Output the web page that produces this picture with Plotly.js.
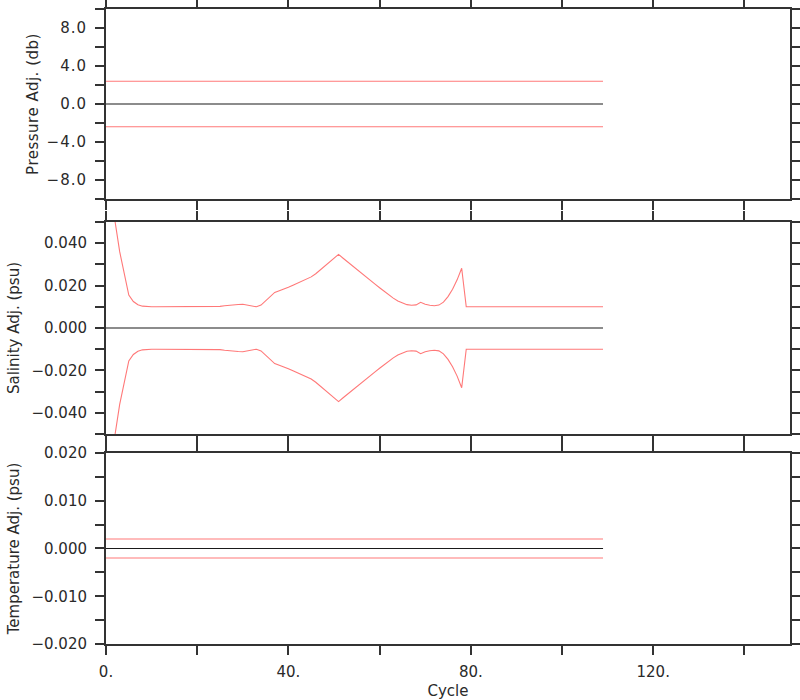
<!DOCTYPE html>
<html>
<head>
<meta charset="utf-8">
<script src="https://cdn.plot.ly/plotly-3.0.1.min.js"></script>
<style>
html,body{margin:0;padding:0;background:#fff;}
#chart{width:800px;height:700px;}
#chart .ytick text, #chart .xtick text { letter-spacing: 1px; }
#chart .ytitle, #chart .xtitle { letter-spacing: 0.5px; }
</style>
</head>
<body>
<div id="chart"></div>
<script>
// ---- data ----
const cycles = [0,1,2,3,4,5,6,7,8,9,10,11,12,13,14,15,16,17,18,19,20,21,22,23,24,25,26,27,28,29,
  30,31,32,33,34,35,36,37,38,39,40,41,42,43,44,45,46,47,48,49,50,51,52,53,54,55,56,57,58,59,
  60,61,62,63,64,65,66,67,68,69,70,71,72,73,74,75,76,77,78,79,80,81,82,83,84,85,86,87,88,89,
  90,91,92,93,94,95,96,97,98,99,100,101,102,103,104,105,106,107,108,109];

const salinityHigh = [0.090,0.070,0.050,0.036,0.025,0.0155,0.0125,0.0110,0.0103,
  0.0100,0.0100,0.0100,0.0100,0.0100,0.0100,0.0100,0.0100,0.0100,0.0100,0.0100,0.0100,0.0100,0.0100,0.0100,0.0100,
  0.0102,0.0105,0.0108,0.0110,0.0111,0.0112,0.0108,0.0101,0.0100,0.0108,0.0128,0.0150,0.0168,0.0176,0.0183,
  0.0192,0.0202,0.0211,0.0220,0.0229,0.0241,0.0256,0.0275,0.0294,0.0312,0.0330,0.0347,0.0329,0.0311,0.0293,
  0.0275,0.0258,0.0241,0.0224,0.0207,0.0190,0.0173,0.0157,0.0141,0.0127,0.0117,0.0110,0.0107,0.0109,0.0121,
  0.0112,0.0107,0.0105,0.0108,0.0122,0.0148,0.0183,0.0227,0.0282,
  0.0100,0.0100,0.0100,0.0100,0.0100,0.0100,0.0100,0.0100,0.0100,0.0100,0.0100,0.0100,0.0100,0.0100,0.0100,0.0100,
  0.0100,0.0100,0.0100,0.0100,0.0100,0.0100,0.0100,0.0100,0.0100,0.0100,0.0100,0.0100,0.0100,0.0100,0.0100];

const salinityLow = [-0.090,-0.070,-0.050,-0.036,-0.025,-0.0155,-0.0125,-0.0110,-0.0103,
  -0.0100,-0.0100,-0.0100,-0.0100,-0.0100,-0.0100,-0.0100,-0.0100,-0.0100,-0.0100,-0.0100,-0.0100,-0.0100,-0.0100,-0.0100,-0.0100,
  -0.0102,-0.0105,-0.0108,-0.0110,-0.0111,-0.0112,-0.0108,-0.0101,-0.0100,-0.0108,-0.0128,-0.0150,-0.0168,-0.0176,-0.0183,
  -0.0192,-0.0202,-0.0211,-0.0220,-0.0229,-0.0241,-0.0256,-0.0275,-0.0294,-0.0312,-0.0330,-0.0347,-0.0329,-0.0311,-0.0293,
  -0.0275,-0.0258,-0.0241,-0.0224,-0.0207,-0.0190,-0.0173,-0.0157,-0.0141,-0.0127,-0.0117,-0.0110,-0.0107,-0.0109,-0.0121,
  -0.0112,-0.0107,-0.0105,-0.0108,-0.0122,-0.0148,-0.0183,-0.0227,-0.0282,
  -0.0100,-0.0100,-0.0100,-0.0100,-0.0100,-0.0100,-0.0100,-0.0100,-0.0100,-0.0100,-0.0100,-0.0100,-0.0100,-0.0100,-0.0100,-0.0100,
  -0.0100,-0.0100,-0.0100,-0.0100,-0.0100,-0.0100,-0.0100,-0.0100,-0.0100,-0.0100,-0.0100,-0.0100,-0.0100,-0.0100,-0.0100];

const lineCycles = [0, 109];
const pressureHigh = [2.4, 2.4];
const pressureLow = [-2.4, -2.4];
const temperatureHigh = [0.002, 0.002];
const temperatureLow = [-0.002, -0.002];
const zeroLine = [0, 0];

const xTickVals = [0,20,40,60,80,100,120,140];
const xTickText = ['0.','','40.','','80.','','120.',''];
const pTickVals = [-10,-8,-6,-4,-2,0,2,4,6,8,10];
const pTickText = ['','\u22128.0','','\u22124.0','','0.0','','4.0','','8.0',''];
const sTickVals = [-0.05,-0.04,-0.03,-0.02,-0.01,0,0.01,0.02,0.03,0.04,0.05];
const sTickText = ['','\u22120.040','','\u22120.020','','0.000','','0.020','','0.040',''];
const tTickVals = [-0.02,-0.015,-0.01,-0.005,0,0.005,0.01,0.015,0.02];
const tTickText = ['\u22120.020','','\u22120.010','','0.000','','0.010','','0.020'];

// ---- styling ----
const RED = 'rgb(255,120,120)';
const BLACK = '#1a1a1a';
const FONT = {family: 'DejaVu Sans, sans-serif', size: 15, color: '#2a2a2a'};
const TFONT = {family: 'DejaVu Sans, sans-serif', size: 15, color: '#2a2a2a'};

function line(x, y, xa, ya, color) {
  return {x: x, y: y, xaxis: xa, yaxis: ya, type: 'scatter', mode: 'lines',
          line: {color: color, width: 1.1}, hoverinfo: 'skip', showlegend: false, cliponaxis: true};
}

const traces = [
  line(lineCycles, pressureHigh, 'x', 'y', RED),
  line(lineCycles, pressureLow, 'x', 'y', RED),
  line(lineCycles, zeroLine, 'x', 'y', BLACK),
  line(cycles, salinityHigh, 'x2', 'y2', RED),
  line(cycles, salinityLow, 'x2', 'y2', RED),
  line(lineCycles, zeroLine, 'x2', 'y2', BLACK),
  line(lineCycles, temperatureHigh, 'x3', 'y3', RED),
  line(lineCycles, temperatureLow, 'x3', 'y3', RED),
  line(lineCycles, zeroLine, 'x3', 'y3', BLACK)
];

function xAxis(anchor, labels) {
  return {
    anchor: anchor, range: [0, 150], showgrid: false, zeroline: false,
    showline: true, linecolor: '#333', linewidth: 2, mirror: 'ticks',
    ticks: 'outside', ticklen: 9, tickwidth: 2, tickcolor: '#333',
    tickmode: 'array', tickvals: xTickVals, ticktext: xTickText,
    showticklabels: labels, tickfont: FONT, ticklabelstandoff: 4, fixedrange: true
  };
}
function yAxis(anchor, dom, range, tv, tt, title) {
  return {
    anchor: anchor, domain: dom, range: range, showgrid: false, zeroline: false,
    showline: true, linecolor: '#333', linewidth: 2, mirror: 'ticks',
    ticks: 'outside', ticklen: 9, tickwidth: 2, tickcolor: '#333',
    tickmode: 'array', tickvals: tv, ticktext: tt, tickfont: FONT, ticklabelstandoff: 5,
    title: {text: title, font: TFONT, standoff: 8},
    fixedrange: true
  };
}

const layout = {
  width: 800, height: 700,
  margin: {l: 106, r: 10, t: 9, b: 56},
  paper_bgcolor: '#fff', plot_bgcolor: '#fff',
  showlegend: false,
  xaxis: xAxis('y', false),
  xaxis2: xAxis('y2', false),
  xaxis3: Object.assign(xAxis('y3', true), {title: {text: 'Cycle', font: TFONT, standoff: 6}}),
  yaxis: yAxis('x', [0.7008, 1], [-10, 10], pTickVals, pTickText, 'Pressure Adj. (db)'),
  yaxis2: yAxis('x2', [0.3307, 0.6646], [-0.05, 0.05], sTickVals, sTickText, 'Salinity Adj. (psu)'),
  yaxis3: yAxis('x3', [0, 0.3008], [-0.02, 0.02], tTickVals, tTickText, 'Temperature Adj. (psu)')
};

Plotly.newPlot('chart', traces, layout, {displayModeBar: false, staticPlot: true});
</script>
</body>
</html>
